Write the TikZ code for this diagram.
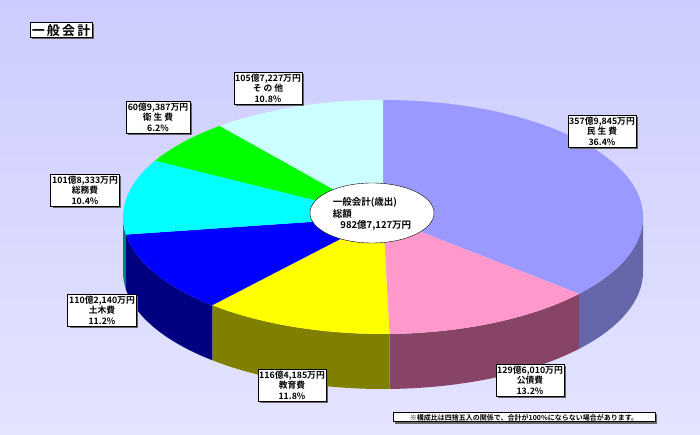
\documentclass[tikz,border=0pt]{standalone}
\usepackage{fontspec}
\setmainfont{Noto Sans CJK JP}[BoldFont={Noto Sans CJK JP Bold}]
\usetikzlibrary{shadows,shapes.geometric}
\definecolor{bgA}{RGB}{204,204,255}
\definecolor{bgB}{RGB}{228,228,255}
\definecolor{cMin}{RGB}{153,153,255}\definecolor{sMin}{RGB}{102,102,170}
\definecolor{cKou}{RGB}{255,153,204}\definecolor{sKou}{RGB}{136,68,102}
\definecolor{cKyo}{RGB}{255,255,0}\definecolor{sKyo}{RGB}{128,128,0}
\definecolor{cDob}{RGB}{0,0,255}\definecolor{sDob}{RGB}{0,0,128}
\definecolor{cSom}{RGB}{0,255,255}\definecolor{sSom}{RGB}{0,128,128}
\definecolor{cEis}{RGB}{0,255,0}
\definecolor{cSon}{RGB}{204,255,255}
\begin{document}
\begin{tikzpicture}[x=1pt,y=1pt,
  lbl/.style={draw=black,fill=white,align=center,font=\bfseries\fontsize{8.8}{10.5}\selectfont,inner sep=1.5pt,
    drop shadow={shadow xshift=2pt,shadow yshift=-2pt,fill=black!60,opacity=1}},
  ]
\useasboundingbox (0,0) rectangle (700,-435);
\shade[top color=bgA,bottom color=bgB] (0,0) rectangle (700,-435);
\def\cx{383}\def\cy{-217}\def\rx{260}\def\ry{117}\def\dp{55}
\newcommand{\sidep}[3]{\fill[#3] ({\cx+\rx*cos(#1)},{\cy+\ry*sin(#1)}) arc[start angle=#1,end angle=#2,x radius=\rx,y radius=\ry] -- ++(0,-\dp) arc[start angle=#2,end angle=#1,x radius=\rx,y radius=\ry] -- cycle;}
\newcommand{\topp}[3]{\fill[#3] (\cx,\cy) -- ({\cx+\rx*cos(#1)},{\cy+\ry*sin(#1)}) arc[start angle=#1,end angle=#2,x radius=\rx,y radius=\ry] -- cycle;}
\sidep{0}{-41.04}{sMin}
\sidep{-41.04}{-88.56}{sKou}
\sidep{-88.56}{-131.04}{sKyo}
\sidep{-131.04}{-171.36}{sDob}
\sidep{-171.36}{-180}{sSom}
\topp{90}{-41.04}{cMin}
\topp{-41.04}{-88.56}{cKou}
\topp{-88.56}{-131.04}{cKyo}
\topp{-131.04}{-171.36}{cDob}
\topp{-171.36}{-208.8}{cSom}
\topp{-208.8}{-231.12}{cEis}
\topp{-231.12}{-270}{cSon}
\node[draw=black,fill=white,ellipse,minimum width=124pt,minimum height=60pt,inner sep=0pt] (ctr) at (372,-213) {};
\node[align=left,font=\bfseries\fontsize{9.5}{11.5}\selectfont] (ctrt) at (372,-213) {一般会計(歳出)\\総額\\\hspace*{0.8em}982億7,127万円};
\node[lbl,font=\bfseries\fontsize{13}{15}\selectfont,inner sep=2pt] (title) at (61,-29.5) {一\,般\,会\,計};
\node[lbl] (min) at (602,-131) {357億9,845万円\\民\ 生\ 費\\36.4\%};
\node[lbl] (kou) at (530,-380) {129億6,010万円\\公債費\\13.2\%};
\node[lbl] (kyo) at (292,-385) {116億4,185万円\\教育費\\11.8\%};
\node[lbl] (dob) at (102,-310) {110億2,140万円\\土木費\\11.2\%};
\node[lbl] (som) at (85,-190) {101億8,333万円\\総務費\\10.4\%};
\node[lbl] (eis) at (158,-117) {60億9,387万円\\衛\ 生\ 費\\6.2\%};
\node[lbl] (son) at (268,-88) {105億7,227万円\\そ\ の\ 他\\10.8\%};
\node[lbl,font=\bfseries\fontsize{7}{8}\selectfont,minimum width=262pt] (note) at (524,-417) {※構成比は四捨五入の関係で、合計が100\%にならない場合があります。};
\end{tikzpicture}
\end{document}
